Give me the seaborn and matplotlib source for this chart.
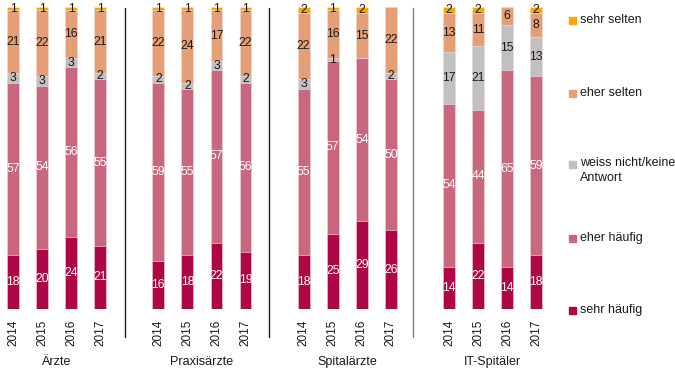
import pandas as pd
import numpy as np
import matplotlib.pyplot as plt
import seaborn as sns
from matplotlib.patches import Rectangle
import matplotlib.transforms as mtransforms

sns.set_theme(style="white")
plt.rcParams['font.family'] = ['Liberation Sans', 'DejaVu Sans']

# Data (percent), groups of four survey years
groups = ["Ärzte", "Praxisärzte", "Spitalärzte", "IT-Spitäler"]
years = ["2014", "2015", "2016", "2017"]

sehr_haeufig = [18, 20, 24, 21, 16, 18, 22, 19, 18, 25, 29, 26, 14, 22, 14, 18]
eher_haeufig = [57, 54, 56, 55, 59, 55, 57, 56, 55, 57, 54, 50, 54, 44, 65, 59]
weiss_nicht = [3, 3, 3, 2, 2, 2, 3, 2, 3, 1, 0, 2, 17, 21, 15, 13]
eher_selten = [21, 22, 16, 21, 22, 24, 17, 22, 22, 16, 15, 22, 13, 11, 6, 8]
sehr_selten = [1, 1, 1, 1, 1, 1, 1, 1, 2, 1, 2, 0, 2, 2, 0, 2]

categories = ["sehr häufig", "eher häufig", "weiss nicht/keine\nAntwort",
              "eher selten", "sehr selten"]
series = [sehr_haeufig, eher_haeufig, weiss_nicht, eher_selten, sehr_selten]
colors = ["#AF0646", "#C9677F", "#C0C0C0", "#E49F76", "#F5A800"]
label_colors = ["white", "white", "#1a1a1a", "#1a1a1a", "#1a1a1a"]

# x slots: one empty slot between groups
pos = [g * 5 + i for g in range(len(groups)) for i in range(len(years))]

fig = plt.figure(figsize=(6.75, 3.69), dpi=100)
ax = fig.add_axes([0, 60 / 369, 549 / 675, 302 / 369])

vals = np.array(series)
cum = vals.cumsum(axis=0)

# draw cumulative bars from top to bottom so they stack
for k in range(len(series) - 1, -1, -1):
    df = pd.DataFrame({"pos": pos, "cum": cum[k]})
    sns.barplot(data=df, x="pos", y="cum", native_scale=True, color=colors[k],
                width=0.41, errorbar=None, saturation=1, edgecolor="#f4e6ea",
                linewidth=0.4, ax=ax)

# value labels centered in segments
for k in range(len(series)):
    for j, x in enumerate(pos):
        v = vals[k, j]
        if v == 0:
            continue
        y = cum[k, j] - v / 2
        ax.text(x, y, str(v), ha="center", va="center", fontsize=8.7,
                color=label_colors[k])

ax.set_xlim(-0.447, 18.44)
ax.set_ylim(0, 100)
ax.set_xticks(pos)
ax.set_xticklabels(years * len(groups), rotation=90, fontsize=8.5, color="#1a1a1a")
ax.tick_params(axis="x", length=0, pad=8)
ax.set_yticks([])
ax.set_xlabel("")
ax.set_ylabel("")
sns.despine(ax=ax, left=True, bottom=True)

trans = mtransforms.blended_transform_factory(ax.transData, ax.transAxes)

# group labels
for g, name in enumerate(groups):
    ax.text(g * 5 + 1.5, -0.1755, name, transform=trans, ha="center",
            va="center", fontsize=9, color="#1a1a1a")

# separators between groups
for xs, c in zip([3.85, 8.8, 13.75], ["#1a1a1a", "#1a1a1a", "#7f7f7f"]):
    ax.plot([xs, xs], [0.997, -0.093], transform=trans, color=c,
            linewidth=1.0, clip_on=False)

# legend, top to bottom
leg_y = [20, 93, 164, 238, 310]
for k, yy in zip(range(len(series) - 1, -1, -1), leg_y):
    fy = 1 - yy / 369
    fig.patches.append(Rectangle((569 / 675, fy - 3.5 / 369), 7 / 675, 7 / 369,
                                 transform=fig.transFigure, color=colors[k]))
    if "\n" in categories[k]:
        fig.text(580 / 675, fy + 7 / 369, categories[k], ha="left", va="top",
                 fontsize=9, color="#1a1a1a", linespacing=1.3)
    else:
        fig.text(580 / 675, fy, categories[k], ha="left", va="center",
                 fontsize=9, color="#1a1a1a")

fig.savefig("out.png", dpi=100)
